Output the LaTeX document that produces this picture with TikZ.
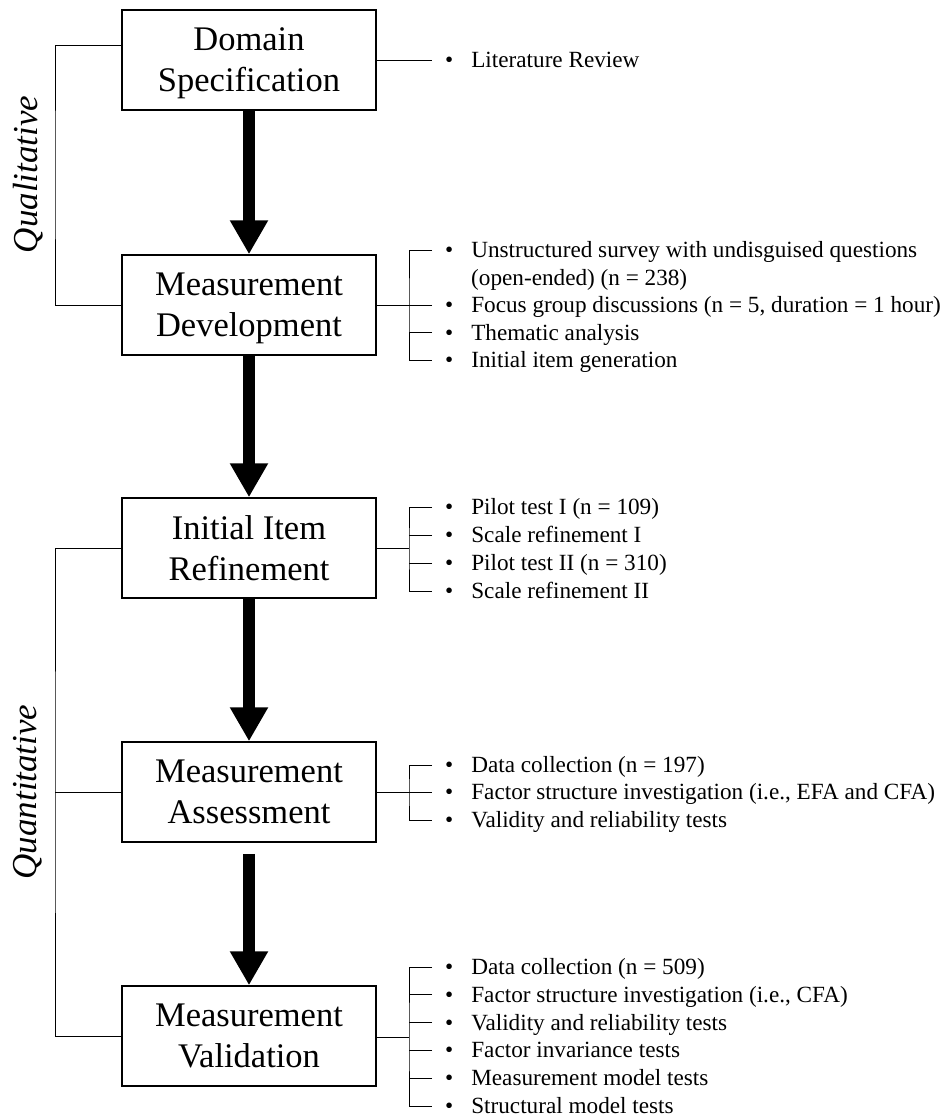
\documentclass[tikz,border=0pt]{standalone}
\usepackage{fontspec}
\setmainfont{Liberation Serif}
\usetikzlibrary{arrows.meta}
\newcommand{\bul}{\textbullet\hspace{18pt}}
\tikzset{
stage/.style={draw,line width=1.5pt,minimum width=254pt,minimum height=100pt,inner sep=0pt,align=center,text depth=0pt,font=\fontsize{34.5}{41}\selectfont},
flow/.style={line width=12.5pt,-{Triangle[width=36pt,length=34pt]}},
item/.style={anchor=west,inner xsep=13pt,inner ysep=0pt,text height=15pt,text depth=0pt,font=\fontsize{23.2}{27.5}\selectfont},
cont/.style={item,inner xsep=0pt},
side/.style={font=\fontsize{35}{42}\selectfont\itshape,rotate=90},
link/.style={line width=0.9pt}
}
\begin{document}
\begin{tikzpicture}[x=1pt,y=-1pt]
\useasboundingbox (0,0) rectangle (946,1119);
\node[stage] (dom) at (249,60) {Domain\\Specification};
\node[stage] (dev) at (249,305) {Measurement\\Development};
\node[stage] (ref) at (249,548) {Initial Item\\Refinement};
\node[stage] (ass) at (249,792) {Measurement\\Assessment};
\node[stage] (val) at (249,1036) {Measurement\\Validation};
\draw[flow] (dom) -- (dev);
\draw[flow] (dev) -- (ref);
\draw[flow] (ref) -- (ass);
\draw[flow] ([yshift=-11pt]ass.south) -- (val.north);

\node[side] (qual) at (28,174.5) {Qualitative};
\coordinate (qualb) at (55,174.5);
\draw[link] ([yshift=15pt]dom.west) -| (qualb) |- (dev.west);
\node[side] (quan) at (28,792) {Quantitative};
\coordinate (quanb) at (55,792);
\draw[link] (ref.west) -| (quanb) |- (val.west);
\draw[link] (ass.west) -- (quanb);

\node[item] (lit) at (432,60) {\bul Literature Review};
\draw[link] (dom) -- (lit);

\node[item] (u1) at (432,250) {\bul Unstructured survey with undisguised questions};
\node[cont] (u1b) at (471,277.5) {(open-ended) (n = 238)};
\node[item] (u2) at (432,305) {\bul Focus group discussions (n = 5, duration = 1 hour)};
\node[item] (u3) at (432,332.5) {\bul Thematic analysis};
\node[item] (u4) at (432,360) {\bul Initial item generation};
\coordinate (devb) at (409,305);
\draw[link] (dev.east) -- (devb);
\draw[link] (u1.west) -| (devb) |- (u4.west);
\draw[link] (u2.west) -- (devb);
\draw[link] (u3.west) -- (u3.west -| devb);

\node[item] (p1) at (432,507) {\bul Pilot test I (n = 109)};
\node[item] (p2) at (432,535) {\bul Scale refinement I};
\node[item] (p3) at (432,563) {\bul Pilot test II (n = 310)};
\node[item] (p4) at (432,591) {\bul Scale refinement II};
\coordinate (refb) at (409,548);
\draw[link] (ref.east) -- (refb);
\draw[link] (p1.west) -| (refb) |- (p4.west);
\draw[link] (p2.west) -- (p2.west -| refb);
\draw[link] (p3.west) -- (p3.west -| refb);

\node[item] (a1) at (432,765) {\bul Data collection (n = 197)};
\node[item] (a2) at (432,792) {\bul Factor structure investigation (i.e., EFA and CFA)};
\node[item] (a3) at (432,820) {\bul Validity and reliability tests};
\coordinate (assb) at (409,792);
\draw[link] (ass) -- (a2);
\draw[link] (a1.west) -| (assb) |- (a3.west);

\node[item] (v1) at (432,967) {\bul Data collection (n = 509)};
\node[item] (v2) at (432,994.8) {\bul Factor structure investigation (i.e., CFA)};
\node[item] (v3) at (432,1022.6) {\bul Validity and reliability tests};
\node[item] (v4) at (432,1050.4) {\bul Factor invariance tests};
\node[item] (v5) at (432,1078.2) {\bul Measurement model tests};
\node[item] (v6) at (432,1106) {\bul Structural model tests};
\coordinate (valb) at (409,1037);
\draw[link] (val.east |- valb) -- (valb);
\draw[link] (v1.west) -| (valb) |- (v6.west);
\draw[link] (v2.west) -- (v2.west -| valb);
\draw[link] (v3.west) -- (v3.west -| valb);
\draw[link] (v4.west) -- (v4.west -| valb);
\draw[link] (v5.west) -- (v5.west -| valb);
\end{tikzpicture}
\end{document}
